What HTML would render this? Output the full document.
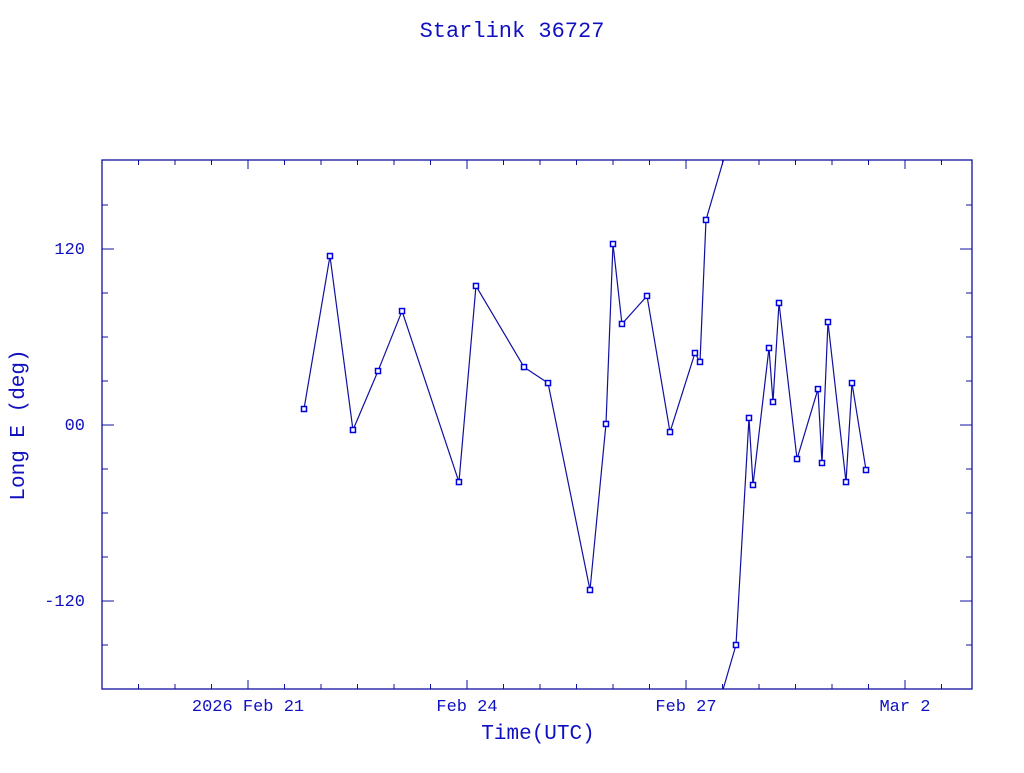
<!DOCTYPE html>
<html><head><meta charset="utf-8"><style>
body{margin:0;background:#fff}
svg text{font-family:"Liberation Mono",monospace;fill:#1010c0}
</style></head><body>
<svg id="chart" width="1024" height="768" viewBox="0 0 1024 768" xmlns="http://www.w3.org/2000/svg">
<text x="512" y="37" font-size="22" text-anchor="middle">Starlink 36727</text>
<text x="538" y="739" font-size="21" text-anchor="middle">Time(UTC)</text>
<text x="0" y="0" font-size="21" text-anchor="middle" transform="translate(24,425) rotate(-90)">Long E (deg)</text>
<rect x="102" y="160" width="870" height="529" fill="none" stroke="#1010a0" stroke-width="1.3"/>
<g id="ticks"></g><g id="series"></g>
</svg>
<script>
const days=[2.767,3.123,3.438,3.781,4.110,4.890,5.123,5.781,6.110,6.685,6.904,7.0,7.123,7.466,7.781,8.123,8.192,8.274,8.685,8.863,8.918,9.137,9.192,9.274,9.521,9.808,9.863,9.945,10.192,10.274,10.466];
const longs=[10.9,115.2,-3.4,36.8,77.7,-38.9,94.8,39.5,28.6,-112.5,0.7,123.4,68.9,88.0,-4.8,49.1,43.0,139.8,-150.0,4.8,-40.9,52.5,15.7,83.2,-23.2,24.5,-25.9,70.2,-38.9,28.6,-30.7];
const yTicks=[120,0,-120];
const yTickLabels=["120","00","-120"];
const xMajorDays=[2,5,8,11];
const xMajorLabels=["2026 Feb 21","Feb 24","Feb 27","Mar  2"];
const NS="http://www.w3.org/2000/svg";
const X0=102,X1=972,Y0=161,Y1=689,D0=0,D1=11.918,V0=-180,V1=180;
const sx=d=>X0+(d-D0)/(D1-D0)*(X1-X0);
const sy=v=>Y1-(v-V0)/(V1-V0)*(Y1-Y0);
const C="#1010a0";
function mk(t,a,p){const e=document.createElementNS(NS,t);for(const k in a)e.setAttribute(k,a[k]);p.appendChild(e);return e;}
const tg=document.getElementById('ticks');
for(let d=0.5;d<D1;d+=0.5){const major=xMajorDays.some(m=>Math.abs(m-d)<1e-6);const L=major?9:5;
 const t=mk('line',{x1:sx(d),x2:sx(d),y1:Y1,y2:Y1-L,stroke:C},tg);
 
 
 const t2=mk('line',{x1:sx(d),x2:sx(d),y1:160,y2:160+L,stroke:C},tg);
 
 }
xMajorDays.forEach((d,i)=>{const t=mk('text',{x:sx(d),y:711,'font-size':17,'text-anchor':'middle'},tg);t.textContent=xMajorLabels[i];
 
 });
for(let v=-150;v<180;v+=30){const major=yTicks.includes(v);const L=major?12:6;
 const a=mk('line',{x1:X0,x2:X0+L,y1:sy(v),y2:sy(v),stroke:C},tg);
 
 
 const b=mk('line',{x1:X1,x2:X1-L,y1:sy(v),y2:sy(v),stroke:C},tg);
 
 }
yTicks.forEach((v,i)=>{const t=mk('text',{x:85,y:sy(v)+5,'font-size':17,'text-anchor':'end'},tg);t.textContent=yTickLabels[i];
 
 });
const sg=document.getElementById('series');
mk('clipPath',{id:'clip'},sg).appendChild(document.createElementNS(NS,'rect'));
const cr=sg.querySelector('#clip rect');cr.setAttribute('x',X0);cr.setAttribute('y',160);cr.setAttribute('width',X1-X0);cr.setAttribute('height',Y1-160);
const lg=mk('g',{'clip-path':'url(#clip)'},sg);
for(let i=0;i<days.length-1;i++){
 let a=longs[i],b=longs[i+1];
 if(Math.abs(b-a)<=180){const l=mk('line',{x1:sx(days[i]),y1:sy(a),x2:sx(days[i+1]),y2:sy(b),stroke:C,'stroke-width':1.2},lg);
  
  }
 else{const bb=b>a?b-360:b+360;const aa=a>b?a-360:a+360;
  const l1=mk('line',{x1:sx(days[i]),y1:sy(a),x2:sx(days[i+1]),y2:sy(bb),stroke:C,'stroke-width':1.2},lg);
  
  
  const l2=mk('line',{x1:sx(days[i]),y1:sy(aa),x2:sx(days[i+1]),y2:sy(b),stroke:C,'stroke-width':1.2},lg);
  
  }
}
days.forEach((d,i)=>{const r=mk('rect',{x:sx(d)-2.5,y:sy(longs[i])-2.5,width:5,height:5,fill:'#fff',stroke:'#0000e0','stroke-width':1.5},sg);
 
 });
</script>
</body></html>
